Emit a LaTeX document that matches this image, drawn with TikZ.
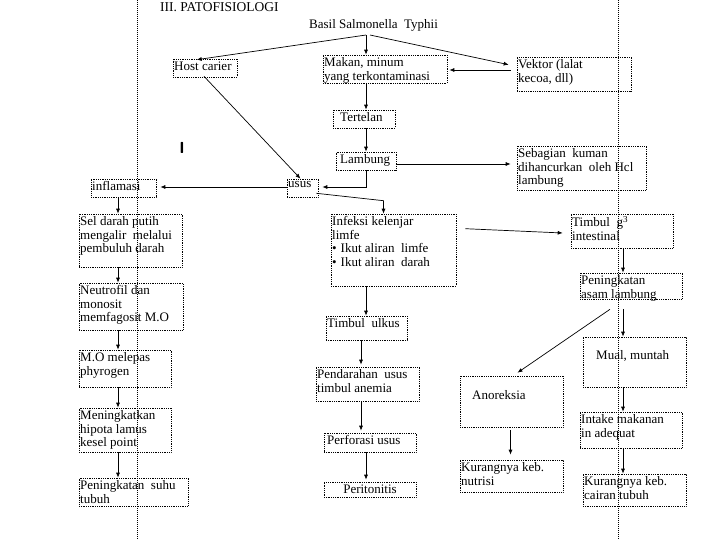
\documentclass[tikz,border=0pt]{standalone}
\usepackage{fontspec}
\setmainfont{Liberation Serif}
\usetikzlibrary{calc,arrows.meta,fit}
\newcommand\bx[5]{\node[box,fit={(#2,#3) (#4,#5)}] (#1) {};}
\newcommand\tx[4]{\node[txt] (#1) at (#2,#3) {#4};}
\begin{document}
\begin{tikzpicture}[x=1pt,y=-1pt,
  box/.style={draw=black, line width=0.6pt, dash pattern=on 0.7pt off 1.1pt, inner sep=0pt},
  txt/.style={anchor=north west, inner sep=0pt, align=left, font=\fontsize{13}{13.8}\selectfont},
  arr/.style={-{Latex[length=5pt,width=4pt]}, line width=0.7pt},
  guide/.style={draw=black, line width=0.7pt, dash pattern=on 0.8pt off 1.2pt}]
\useasboundingbox (0,0) rectangle (720,540);
\fill[white] (0,0) rectangle (720,540);
% guide lines
\coordinate (g1t) at (137,0); \coordinate (g1b) at (137,540);
\coordinate (g2t) at (618,0); \coordinate (g2b) at (618,540);
\draw[guide] (g1t) -- (g1b);
\draw[guide] (g2t) -- (g2b);
% column coordinates
\coordinate (lc) at (118,0);
\coordinate (mc) at (366,0);
\coordinate (mc2) at (361,0);
\coordinate (rc) at (623,0);
% title
\node[anchor=base west, inner sep=0pt, font=\fontsize{13.5}{15}\selectfont] (title) at (160,11.5) {III. PATOFISIOLOGI};
\node[anchor=base west, inner sep=1pt, font=\fontsize{13}{14}\selectfont] (basil) at (308,29) {Basil Salmonella\ \ Typhii};
\node[font=\sffamily\bfseries\fontsize{16}{18}\selectfont, inner sep=0pt] (cursor) at (182,148) {I};
% boxes
\bx{host}{173}{59}{237}{77}
\bx{makan}{323}{55}{447}{83}
\bx{vektor}{517}{57}{631}{91}
\bx{tertelan}{333}{110}{395}{128}
\bx{lambung}{336}{152}{396}{170}
\bx{sebagian}{517}{146}{646}{190}
\bx{usus}{287}{179}{318}{197}
\bx{inflamasi}{91}{179}{156}{197}
\bx{sel}{79}{214}{182}{267}
\bx{infeksi}{331}{214}{456}{286}
\bx{timbulg}{571}{214}{673}{248}
\bx{asam}{580}{273}{682}{299}
\bx{neutro}{79}{283}{183}{330}
\bx{mo}{79}{350}{171}{387}
\bx{menin}{79}{408}{171}{452}
\bx{suhu}{79}{478}{188}{506}
\bx{ulkus}{326}{316}{407}{340}
\bx{pendarahan}{316}{367}{419}{401}
\bx{perforasi}{324}{433}{416}{452}
\bx{peritonitis}{324}{482}{416}{497}
\bx{mual}{583}{337}{686}{387}
\bx{anoreksia}{460}{376}{563}{427}
\bx{intake}{580}{412}{682}{448}
\bx{nutrisi}{460}{460}{563}{492}
\bx{cairan}{583}{474}{686}{506}
% texts
\tx{thost}{174}{62}{Host carier}
\tx{tmakan}{324}{57}{Makan,\ minum\\yang\ terkontaminasi}
\tx{tvektor}{518}{59}{Vektor (lalat\\kecoa,\ dll)}
\tx{ttertelan}{340}{112}{Tertelan}
\tx{tlambung}{340}{154}{Lambung}
\tx{tsebagian}{518}{148}{Sebagian\ \ kuman\\dihancurkan\ \ oleh\ Hcl\\lambung}
\tx{tusus}{288}{181}{usus}
\tx{tinflamasi}{92}{181}{inflamasi}
\tx{tsel}{80}{216}{Sel darah\ putih\\mengalir\ \ melalui\\pembuluh\ darah}
\tx{tinfeksi}{332}{216}{Infeksi kelenjar\\limfe\\\textbullet\hspace{4pt}Ikut aliran\ \ limfe\\\textbullet\hspace{4pt}Ikut aliran\ \ darah}
\tx{ttimbulg}{572}{216}{Timbul\ \ g\textsuperscript{3}\\intestinal}
\tx{tasam}{581}{275}{Peningkatan\\asam lambung}
\tx{tneutro}{80}{285}{Neutrofil\ dan\\monosit\\memfagosit\ M.O}
\tx{tmo}{80}{352}{M.O melepas\\phyrogen}
\tx{tmenin}{80}{410}{Meningkatkan\\hipota lamus\\kesel point}
\tx{tsuhu}{80}{480}{Peningkatan\ \ suhu\\tubuh}
\tx{tulkus}{327}{318}{Timbul\ \ ulkus}
\tx{tpendarahan}{317}{369}{Pendarahan\ \ usus\\timbul\ anemia}
\tx{tperforasi}{327}{435}{Perforasi usus}
\node[inner sep=0pt, font=\fontsize{13}{13.8}\selectfont] (tperitonitis) at (370,489) {Peritonitis};
\tx{tmual}{596}{350}{Mual,\ muntah}
\tx{tanoreksia}{472}{390}{Anoreksia}
\tx{tintake}{581}{414}{Intake makanan\\in\ adequat}
\tx{tnutrisi}{461}{462}{Kurangnya\ keb.\\nutrisi}
\tx{tcairan}{584}{476}{Kurangnya\ keb.\\cairan\ tubuh}
% connectors
\draw[arr] ($(basil.south west)+(58,2)$) -- ($(host.north west)+(24,1)$);
\draw[arr] ($(basil.south west)+(58,2)$) -- (makan.north -| mc);
\draw[arr] ($(basil.south west)+(62,2)$) -- ($(vektor.north west)+(-8,8)$);
\draw[arr] ($(vektor.west)+(-6,-4)$) -- ($(makan.east)+(2,1)$);
\draw[arr] (makan.south -| mc) -- (tertelan.north -| mc);
\draw[arr] (tertelan.south -| mc) -- (lambung.north -| mc);
\draw[arr] ($(lambung.east)+(0,3)$) -- ($(lambung.east -| sebagian.west)+(-6,3)$);
\draw[arr] (lambung.south -| mc) |- ($(usus.east)+(4,-1)$);
\draw[arr] ($(host.south)+(-1,-1)$) -- ($(usus.north)+(-2,0)$);
\draw[arr] ($(usus.west)+(0,-1)$) -- ($(inflamasi.east)+(4,-1)$);
\draw[arr] ($(usus.south east)+(-2,-4)$) -- ($(infeksi.north)+(-10,-13)$) -- ($(infeksi.north)+(-10,0)$);
\draw[arr] ($(infeksi.north east)+(9,15)$) -- ($(timbulg.west)+(-8,2)$);
\draw[arr] (timbulg.south -| rc) -- (asam.north -| rc);
\draw[arr] ($(asam.south)+(-21,10)$) -- ($(anoreksia.north)+(6,-3)$);
\draw[arr] ($(asam.south -| rc)+(0,10)$) -- (mual.north -| rc);
\draw[arr] (mual.south -| rc) -- (intake.north -| rc);
\draw[arr] (intake.south -| rc) -- (cairan.north -| rc);
\draw[arr] ($(anoreksia.south)+(-1,3)$) -- ($(anoreksia.south |- nutrisi.north)+(-1,-5)$);
\draw[arr] (inflamasi.south -| lc) -- (sel.north -| lc);
\draw[arr] (sel.south -| lc) -- (neutro.north -| lc);
\draw[arr] (neutro.south -| lc) -- (mo.north -| lc);
\draw[arr] (mo.south -| lc) -- (menin.north -| lc);
\draw[arr] (menin.south -| lc) -- (suhu.north -| lc);
\draw[arr] (infeksi.south -| mc) -- (ulkus.north -| mc);
\draw[arr] (ulkus.south -| mc2) -- ($(pendarahan.north -| mc2)+(0,-2)$);
\draw[arr] (pendarahan.south -| mc2) -- ($(perforasi.north -| mc2)+(0,-2)$);
\draw[arr] (perforasi.south -| mc) -- ($(peritonitis.north -| mc)+(0,-2)$);
\end{tikzpicture}
\end{document}
